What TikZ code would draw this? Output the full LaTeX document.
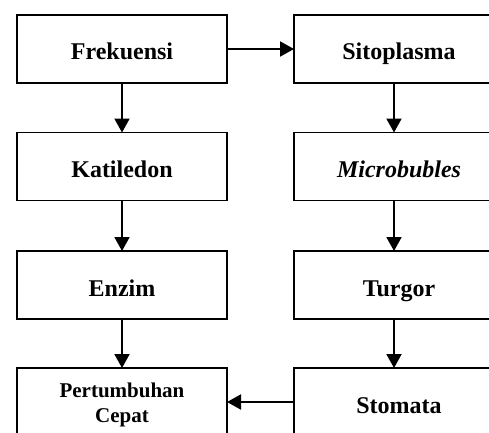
\documentclass[tikz,border=0pt]{standalone}
\usepackage{fontspec}
\setmainfont{Liberation Serif}
\usetikzlibrary{arrows.meta}
\tikzset{
  boxnode/.style={draw=black, line width=1.1pt, fill=white, minimum width=210pt, minimum height=68pt,
    inner sep=0pt, outer sep=0pt, align=center, text height=22pt, text depth=0pt,
    font=\bfseries\fontsize{24}{28}\selectfont},
  twoline/.style={inner sep=0pt, align=center, font=\bfseries\fontsize{21}{25}\selectfont},
  arr/.style={line width=2pt, -{Triangle[length=14pt,width=15pt]}}
}
\begin{document}
\begin{tikzpicture}[x=1pt,y=1pt]
\useasboundingbox (0,0) rectangle (489,432);
\clip (0,0) rectangle (489,432);
\fill[white] (0,0) rectangle (489,432);
\node[boxnode] (fre) at (122,383) {Frekuensi};
\node[boxnode] (kat) at (122,265.5) {Katiledon};
\node[boxnode] (enz) at (122,147) {Enzim};
\node[boxnode] (sit) at (399,383) {Sitoplasma};
\node[boxnode] (mic) at (399,265.5) {\itshape Microbubles};
\node[boxnode] (tur) at (399,147) {Turgor};
\node[boxnode] (sto) at (399,30) {Stomata};
\node[boxnode] (per) at (122,30) {};
\node[twoline] (pertext) at ([yshift=-3pt]per.center) {Pertumbuhan\\Cepat};
\draw[arr] (fre) -- (kat);
\draw[arr] (kat) -- (enz);
\draw[arr] (enz) -- (per);
\draw[arr] ([xshift=-5pt]sit.south) -- ([xshift=-5pt]mic.north);
\draw[arr] ([xshift=-5pt]mic.south) -- ([xshift=-5pt]tur.north);
\draw[arr] ([xshift=-5pt]tur.south) -- ([xshift=-5pt]sto.north);
\draw[arr] (fre.east) -- (sit.west);
\draw[arr] (sto.west) -- (per.east);
\end{tikzpicture}
\end{document}
